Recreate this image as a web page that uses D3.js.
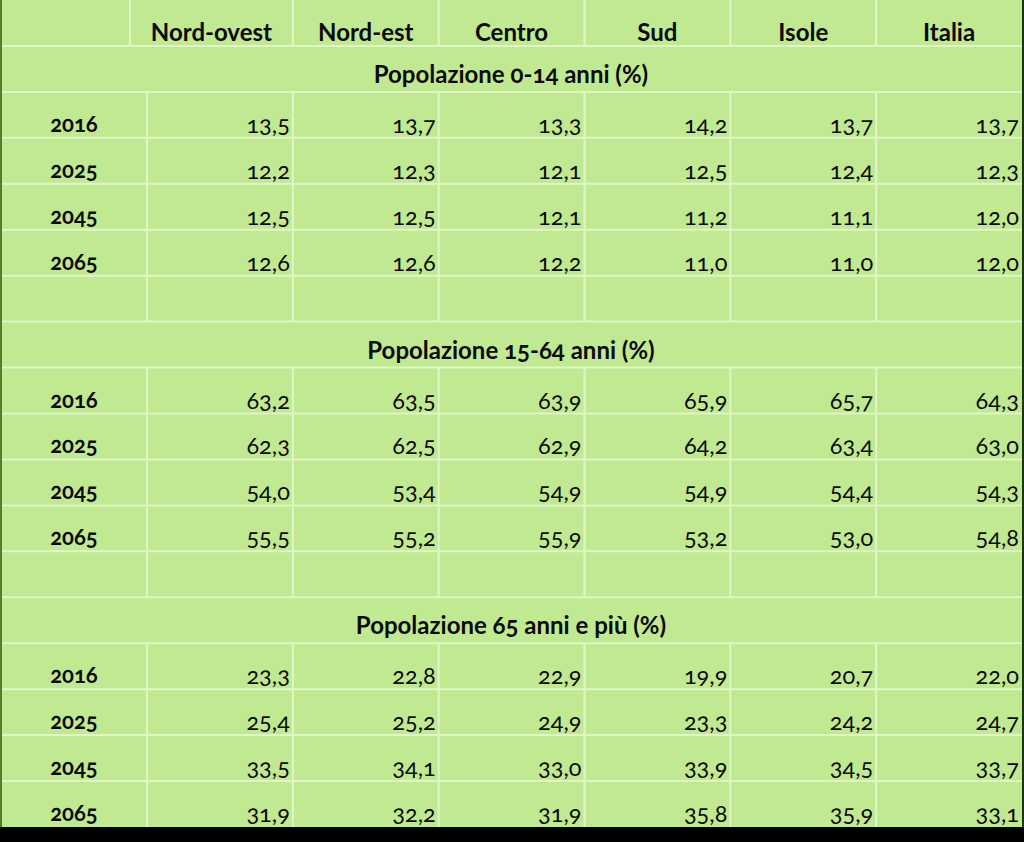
<!DOCTYPE html>
<html><head><meta charset="utf-8">
<script src="https://cdn.jsdelivr.net/npm/d3@7"></script>
<style>
html,body{margin:0;padding:0;background:#000;}
svg{display:block;font-family:Lato,"Open Sans",sans-serif;font-variant-numeric:oldstyle-nums;}
</style></head><body>
<svg id="c" width="1024" height="842"></svg>
<script>
const regions = ["Nord-ovest","Nord-est","Centro","Sud","Isole","Italia"];
const years = ["2016","2025","2045","2065"];
const sectionTitles = ["Popolazione 0-14 anni (%)","Popolazione 15-64 anni (%)","Popolazione 65 anni e più (%)"];
const pop0_14 = [
  [13.5,13.7,13.3,14.2,13.7,13.7],
  [12.2,12.3,12.1,12.5,12.4,12.3],
  [12.5,12.5,12.1,11.2,11.1,12.0],
  [12.6,12.6,12.2,11.0,11.0,12.0]
];
const pop15_64 = [
  [63.2,63.5,63.9,65.9,65.7,64.3],
  [62.3,62.5,62.9,64.2,63.4,63.0],
  [54.0,53.4,54.9,54.9,54.4,54.3],
  [55.5,55.2,55.9,53.2,53.0,54.8]
];
const pop65 = [
  [23.3,22.8,22.9,19.9,20.7,22.0],
  [25.4,25.2,24.9,23.3,24.2,24.7],
  [33.5,34.1,33.0,33.9,34.5,33.7],
  [31.9,32.2,31.9,35.8,35.9,33.1]
];
const sectionValues = [pop0_14, pop15_64, pop65];

// Build row list (18 rows)
const rows = [{type:"header", id:"h"}];
sectionValues.forEach((vals, s) => {
  if (s > 0) rows.push({type:"empty", id:"e"+s});
  rows.push({type:"title", id:"t"+s, text:sectionTitles[s]});
  years.forEach((y, i) => rows.push({type:"data", id:"d"+s+"_"+i, year:y, values:vals[i]}));
});

const W = 1022, H = 827;
const svg = d3.select("#c");
const fmt = v => d3.format(".1f")(v).replace(".", ",");

const y = d3.scaleBand().domain(rows.map(r => r.id)).range([0, H]);
const x = d3.scaleBand().domain(regions).range([147, W]);

const bg = "#c1e991", line = "#e0f6c6";
svg.append("rect").attr("width",1024).attr("height",842).attr("fill","#000");
svg.append("rect").attr("width",W).attr("height",H).attr("fill",bg);

const g = svg.append("g");
rows.forEach((r, i) => {
  if (i === 0) return;
  g.append("line").attr("x1",0).attr("x2",W).attr("y1",y(r.id)).attr("y2",y(r.id))
    .attr("stroke",line).attr("stroke-width",2);
});
rows.forEach(r => {
  if (r.type === "title") return;
  const xs = r.type === "header" ? [130].concat(regions.slice(1).map(d => x(d))) : regions.map(d => x(d));
  xs.forEach(xx => g.append("line").attr("x1",xx).attr("x2",xx)
    .attr("y1",y(r.id)).attr("y2",y(r.id)+y.bandwidth())
    .attr("stroke",line).attr("stroke-width",2));
});
svg.append("rect").attr("x",0).attr("y",0).attr("width",2).attr("height",H).attr("fill","#4d7f2c");
svg.append("rect").attr("x",W).attr("y",0).attr("width",2).attr("height",H).attr("fill","#1e3310");

const T = svg.append("g").attr("fill","#0a0a0a");
rows.forEach(r => {
  const top = y(r.id), bot = top + y.bandwidth();
  if (r.type === "header") {
    regions.forEach((reg, i) => {
      const x0 = i === 0 ? 130 : x(reg);
      T.append("text").attr("x", (x0 + x(reg) + x.bandwidth())/2).attr("y", bot - 5)
        .attr("text-anchor","middle").attr("font-size",24).attr("font-weight","bold").text(reg);
    });
  } else if (r.type === "title") {
    T.append("text").attr("x", W/2).attr("y", bot - 9).attr("text-anchor","middle")
      .attr("font-size",24).attr("font-weight","bold").text(r.text);
  } else if (r.type === "data") {
    T.append("text").attr("x", 74).attr("y", bot - 6).attr("text-anchor","middle")
      .attr("font-size",22).attr("font-weight","bold").text(r.year);
    r.values.forEach((v, i) => {
      T.append("text").attr("x", x(regions[i]) + x.bandwidth() - 3).attr("y", bot - 5)
        .attr("text-anchor","end").attr("font-size",23.5).text(fmt(v));
    });
  }
});
</script>
</body></html>
